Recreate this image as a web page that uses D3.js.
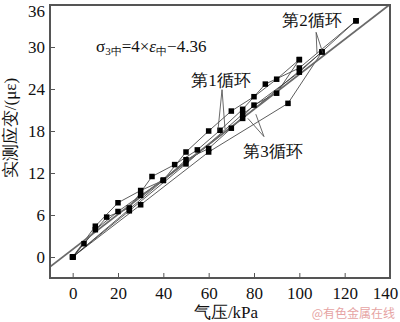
<!DOCTYPE html>
<html>
<head>
<meta charset="utf-8">
<script src="https://cdn.jsdelivr.net/npm/d3@7/dist/d3.min.js"></script>
<style>
  html, body { margin: 0; padding: 0; background: #fff; }
  svg { display: block; }
</style>
</head>
<body>
<svg id="chart" width="400" height="322"></svg>
<script>
// Pressure (kPa) and measured strain (με) for the three loading/unloading cycles
const cycle1LoadX = [0, 10, 20, 30, 40, 50, 60, 70, 80, 90, 100];
const cycle1LoadY = [0, 4.4, 7.75, 9.5, 10.95, 15.0, 18.0, 20.85, 22.9, 25.4, 28.2];
const cycle1UnloadX = [100, 90, 80, 70, 60, 50, 40, 30, 20, 10, 0];
const cycle1UnloadY = [28.2, 23.4, 21.7, 18.4, 15.5, 13.9, 10.95, 8.8, 6.5, 3.9, 0];

const cycle2LoadX = [0, 5, 15, 25, 35, 45, 55, 65, 75, 85, 100, 125];
const cycle2LoadY = [0, 1.9, 5.7, 7.0, 11.5, 13.2, 15.3, 18.1, 21.1, 24.7, 27.0, 33.75];
const cycle2UnloadX = [125, 100, 75, 50, 25, 0];
const cycle2UnloadY = [33.75, 26.4, 20.4, 13.3, 6.6, 0];

const cycle3LoadX = [0, 30, 60, 95, 110];
const cycle3LoadY = [0, 7.46, 15.0, 21.95, 29.3];
const cycle3UnloadX = [110, 75, 40, 0];
const cycle3UnloadY = [29.3, 19.8, 10.95, 0];

// Linear fit: strain = (pressure + 4.36) / 4
const fitSlope = 0.25;
const fitIntercept = 4.36 / 4;

const xTicks = [0, 20, 40, 60, 80, 100, 120, 140];
const yTicks = [0, 6, 12, 18, 24, 30, 36];
const xTitle = "气压/kPa";
const yTitle = "实测应变/(με)";

const SERIF = "Liberation Serif";

const svg = d3.select("#chart");
const m = { left: 50, right: 390, top: 5, bottom: 278 };

const x = d3.scaleLinear().domain([-10, 140]).range([m.left, m.right]);
const y = d3.scaleLinear().domain([-3, 36]).range([m.bottom, m.top]);

const zip = (xs, ys) => xs.map((v, i) => [v, ys[i]]);
const series = [
  zip(cycle1LoadX, cycle1LoadY), zip(cycle1UnloadX, cycle1UnloadY),
  zip(cycle2LoadX, cycle2LoadY), zip(cycle2UnloadX, cycle2UnloadY),
  zip(cycle3LoadX, cycle3LoadY), zip(cycle3UnloadX, cycle3UnloadY)
];

svg.append("defs").append("clipPath").attr("id", "plot-clip")
  .append("rect").attr("x", m.left).attr("y", m.top)
  .attr("width", m.right - m.left).attr("height", m.bottom - m.top);

const plot = svg.append("g").attr("clip-path", "url(#plot-clip)");

// connecting lines of each cycle
const line = d3.line().x(d => x(d[0])).y(d => y(d[1]));
plot.selectAll("path.cycle").data(series).join("path")
  .attr("class", "cycle")
  .attr("d", line)
  .attr("fill", "none")
  .attr("stroke", "#333")
  .attr("stroke-width", 0.8);

// fitted straight line
const fitX = [-10, 140];
plot.append("line")
  .attr("x1", x(fitX[0])).attr("y1", y(fitSlope * fitX[0] + fitIntercept))
  .attr("x2", x(fitX[1])).attr("y2", y(fitSlope * fitX[1] + fitIntercept))
  .attr("stroke", "#6a6a6a")
  .attr("stroke-width", 1.8);

// square markers
const pts = series.flat();
const s = 5.5;
plot.selectAll("rect.pt").data(pts).join("rect")
  .attr("class", "pt")
  .attr("x", d => x(d[0]) - s / 2)
  .attr("y", d => y(d[1]) - s / 2)
  .attr("width", s).attr("height", s)
  .attr("fill", "#000");

// axes with inward ticks
const axisColor = "#555";
const xAxis = svg.append("g").attr("transform", `translate(0,${m.bottom})`)
  .call(d3.axisBottom(x).tickValues(xTicks).tickSize(-5).tickPadding(9).tickFormat(d3.format("d")));
const yAxis = svg.append("g").attr("transform", `translate(${m.left},0)`)
  .call(d3.axisLeft(y).tickValues(yTicks).tickSize(-5).tickPadding(5).tickFormat(d3.format("d")));
[xAxis, yAxis].forEach(g => {
  g.attr("font-family", SERIF).attr("font-size", 17);
  g.select(".domain").remove();
  g.selectAll(".tick line").attr("stroke", axisColor).attr("stroke-width", 1);
  g.selectAll(".tick text").attr("fill", "#111");
});
// keep the outermost labels inside the canvas
xAxis.selectAll(".tick text").filter(d => d === 140).attr("dx", -5);
yAxis.selectAll(".tick text").filter(d => d === 36).attr("y", 6);

// frame
svg.append("rect")
  .attr("x", m.left).attr("y", m.top)
  .attr("width", m.right - m.left).attr("height", m.bottom - m.top)
  .attr("fill", "none").attr("stroke", axisColor).attr("stroke-width", 2);

// axis titles
svg.append("text")
  .attr("font-family", SERIF).attr("font-size", 17)
  .attr("x", 226).attr("y", 318)
  .attr("text-anchor", "middle").attr("fill", "#111")
  .text(xTitle);
svg.append("text")
  .attr("font-family", SERIF).attr("font-size", 17)
  .attr("transform", `translate(16,128) rotate(-90)`)
  .attr("text-anchor", "middle").attr("fill", "#111")
  .text(yTitle);

// equation of the fitted line
const eq = svg.append("text")
  .attr("font-family", SERIF).attr("font-size", 17)
  .attr("x", x(10.3)).attr("y", y(29.3)).attr("fill", "#111");
eq.append("tspan").text("σ");
eq.append("tspan").attr("font-size", 11).attr("dy", 3).text("3中");
eq.append("tspan").attr("dy", -3).text("=4×");
eq.append("tspan").attr("font-style", "italic").text("ε");
eq.append("tspan").attr("font-size", 11).attr("dy", 3).text("中");
eq.append("tspan").attr("dy", -3).text("−4.36");

// cycle labels with leader lines
const labels = [
  { text: "第1循环", at: [65.4, 24.4], from: [65.9, 23.9], to: [[64.1, 18.1], [67.2, 18.3]] },
  { text: "第2循环", at: [105.6, 33.0], from: [107.4, 32.1], to: [[107.8, 29.1], [110.4, 29.1]] },
  { text: "第3循环", at: [88.4, 14.3], from: [84.4, 17.2], to: [[77.3, 19.8], [80.8, 20.4]] }
];
labels.forEach(l => {
  svg.append("text")
    .attr("font-family", SERIF).attr("font-size", 17)
    .attr("x", x(l.at[0])).attr("y", y(l.at[1]))
    .attr("text-anchor", "middle").attr("fill", "#111")
    .text(l.text);
  l.to.forEach(t => {
    svg.append("line")
      .attr("x1", x(l.from[0])).attr("y1", y(l.from[1]))
      .attr("x2", x(t[0])).attr("y2", y(t[1]))
      .attr("stroke", "#444").attr("stroke-width", 0.8);
  });
});

// source mark
svg.append("text")
  .attr("x", 395).attr("y", 318).attr("text-anchor", "end")
  .attr("font-family", "Noto Sans CJK SC").attr("font-size", 12)
  .attr("fill", "#e6a3a3")
  .text("@有色金属在线");
</script>
</body>
</html>
